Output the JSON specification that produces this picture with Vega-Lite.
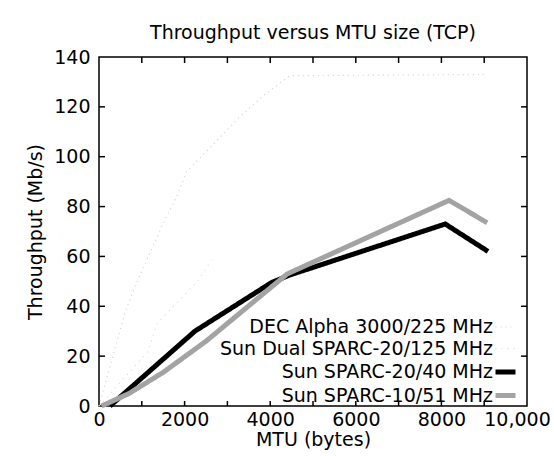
{
  "$schema": "https://vega.github.io/schema/vega-lite/v6.json",
  "width": 428,
  "height": 349,
  "autosize": {"type": "none"},
  "padding": {"left": 99, "top": 57, "right": 27, "bottom": 50},
  "background": "white",
  "title": {"text": "Throughput versus MTU size (TCP)", "font": "DejaVu Sans", "fontSize": 19, "fontWeight": "normal", "color": "black", "offset": 5, "anchor": "middle"},
  "config": {
    "view": {"stroke": "black", "strokeWidth": 1.5},
    "axis": {"domain": false, "grid": false, "ticks": false, "labelFont": "DejaVu Sans", "labelFontSize": 19, "labelColor": "black", "titleFont": "DejaVu Sans", "titleFontSize": 19, "titleFontWeight": "normal", "titleColor": "black"}
  },
  "datasets": {
    "d": [
      {"s": "DEC Alpha 3000/225 MHz", "mtu": 0, "tp": 0},
      {"s": "DEC Alpha 3000/225 MHz", "mtu": 600, "tp": 37},
      {"s": "DEC Alpha 3000/225 MHz", "mtu": 840, "tp": 48},
      {"s": "DEC Alpha 3000/225 MHz", "mtu": 1465, "tp": 72},
      {"s": "DEC Alpha 3000/225 MHz", "mtu": 1815, "tp": 84},
      {"s": "DEC Alpha 3000/225 MHz", "mtu": 2050, "tp": 94},
      {"s": "DEC Alpha 3000/225 MHz", "mtu": 3290, "tp": 116},
      {"s": "DEC Alpha 3000/225 MHz", "mtu": 3880, "tp": 125},
      {"s": "DEC Alpha 3000/225 MHz", "mtu": 4460, "tp": 132.5},
      {"s": "DEC Alpha 3000/225 MHz", "mtu": 9070, "tp": 133},
      {"s": "Sun Dual SPARC-20/125 MHz", "mtu": 0, "tp": 0},
      {"s": "Sun Dual SPARC-20/125 MHz", "mtu": 1150, "tp": 22},
      {"s": "Sun Dual SPARC-20/125 MHz", "mtu": 1350, "tp": 33},
      {"s": "Sun Dual SPARC-20/125 MHz", "mtu": 2300, "tp": 50},
      {"s": "Sun Dual SPARC-20/125 MHz", "mtu": 2630, "tp": 58.5},
      {"s": "Sun SPARC-20/40 MHz", "mtu": 256, "tp": 0},
      {"s": "Sun SPARC-20/40 MHz", "mtu": 2240, "tp": 30},
      {"s": "Sun SPARC-20/40 MHz", "mtu": 4030, "tp": 49.5},
      {"s": "Sun SPARC-20/40 MHz", "mtu": 4450, "tp": 52.5},
      {"s": "Sun SPARC-20/40 MHz", "mtu": 8090, "tp": 73},
      {"s": "Sun SPARC-20/40 MHz", "mtu": 9090, "tp": 62},
      {"s": "Sun SPARC-10/51 MHz", "mtu": 60, "tp": 0},
      {"s": "Sun SPARC-10/51 MHz", "mtu": 700, "tp": 5},
      {"s": "Sun SPARC-10/51 MHz", "mtu": 1500, "tp": 13.5},
      {"s": "Sun SPARC-10/51 MHz", "mtu": 2500, "tp": 26},
      {"s": "Sun SPARC-10/51 MHz", "mtu": 4400, "tp": 53},
      {"s": "Sun SPARC-10/51 MHz", "mtu": 8180, "tp": 82.5},
      {"s": "Sun SPARC-10/51 MHz", "mtu": 9070, "tp": 73.5}
    ],
    "xticks": [{"v": 1000}, {"v": 2000}, {"v": 3000}, {"v": 4000}, {"v": 5000}, {"v": 6000}, {"v": 7000}, {"v": 8000}, {"v": 9000}],
    "yticks": [{"v": 20}, {"v": 40}, {"v": 60}, {"v": 80}, {"v": 100}, {"v": 120}]
  },
  "layer": [
    {
      "data": {"name": "d"},
      "encoding": {
        "x": {"field": "mtu", "type": "quantitative", "title": "MTU (bytes)",
          "scale": {"domain": [0, 10000], "nice": false, "zero": false},
          "axis": {"title": "MTU (bytes)", "values": [0,2000,4000,6000,8000,10000],
            "labelExpr": "datum.value == 10000 ? '10,000' : '' + datum.value",
            "labelOffset": {"condition": {"test": "datum.value == 10000", "value": -10}, "value": 0},
            "labelPadding": 4, "titlePadding": 1, "labelFlush": false, "labelOverlap": false}},
        "y": {"field": "tp", "type": "quantitative", "title": "Throughput (Mb/s)",
          "scale": {"domain": [0, 140], "nice": false},
          "axis": {"title": "Throughput (Mb/s)", "values": [0,20,40,60,80,100,120,140],
            "labelPadding": 9, "titlePadding": 8}},
        "color": {"field": "s", "type": "nominal",
          "scale": {"domain": ["DEC Alpha 3000/225 MHz", "Sun Dual SPARC-20/125 MHz", "Sun SPARC-20/40 MHz", "Sun SPARC-10/51 MHz"],
                    "range": ["#d0d0d0", "#d8d8d8", "#000000", "#a3a3a3"]},
          "legend": {"title": null, "orient": "none", "legendX": 394, "legendY": 259, "symbolType": "stroke", "symbolSize": 400,
            "labelAlign": "right", "labelOffset": -25, "labelFont": "DejaVu Sans", "labelFontSize": 19, "labelColor": "black",
            "labelLimit": 400, "rowPadding": 0.7, "padding": 0}},
        "strokeWidth": {"field": "s", "type": "nominal",
          "scale": {"type": "ordinal", "domain": ["DEC Alpha 3000/225 MHz", "Sun Dual SPARC-20/125 MHz", "Sun SPARC-20/40 MHz", "Sun SPARC-10/51 MHz"],
                    "range": [1.2, 1.2, 5, 5]}},
        "strokeDash": {"field": "s", "type": "nominal",
          "scale": {"domain": ["DEC Alpha 3000/225 MHz", "Sun Dual SPARC-20/125 MHz", "Sun SPARC-20/40 MHz", "Sun SPARC-10/51 MHz"],
                    "range": [[1, 4], [1, 5], [1, 0], [1, 0]]}}
      },
      "layer": [
        {
          "transform": [{"filter": "datum.s == 'DEC Alpha 3000/225 MHz' || datum.s == 'Sun Dual SPARC-20/125 MHz'"}],
          "mark": {"type": "line", "strokeJoin": "miter"}
        },
        {
          "transform": [{"filter": "datum.s == 'Sun SPARC-20/40 MHz'"}],
          "mark": {"type": "line", "strokeJoin": "miter"}
        },
        {
          "transform": [{"filter": "datum.s == 'Sun SPARC-10/51 MHz'"}],
          "mark": {"type": "line", "strokeJoin": "miter"}
        }
      ]
    },
    {
      "data": {"name": "xticks"},
      "mark": {"type": "rule", "color": "black", "strokeWidth": 1.5},
      "encoding": {
        "x": {"field": "v", "type": "quantitative", "title": "MTU (bytes)"},
        "y": {"datum": 0, "type": "quantitative"},
        "y2": {"datum": 2}
      }
    },
    {
      "data": {"name": "xticks"},
      "mark": {"type": "rule", "color": "black", "strokeWidth": 1.5},
      "encoding": {
        "x": {"field": "v", "type": "quantitative", "title": "MTU (bytes)"},
        "y": {"datum": 140, "type": "quantitative"},
        "y2": {"datum": 137.6}
      }
    },
    {
      "data": {"name": "yticks"},
      "mark": {"type": "rule", "color": "black", "strokeWidth": 1.5},
      "encoding": {
        "y": {"field": "v", "type": "quantitative", "title": "Throughput (Mb/s)"},
        "x": {"datum": 0, "type": "quantitative"},
        "x2": {"datum": 140}
      }
    },
    {
      "data": {"name": "yticks"},
      "mark": {"type": "rule", "color": "black", "strokeWidth": 1.5},
      "encoding": {
        "y": {"field": "v", "type": "quantitative", "title": "Throughput (Mb/s)"},
        "x": {"datum": 10000, "type": "quantitative"},
        "x2": {"datum": 9860}
      }
    }
  ]
}
